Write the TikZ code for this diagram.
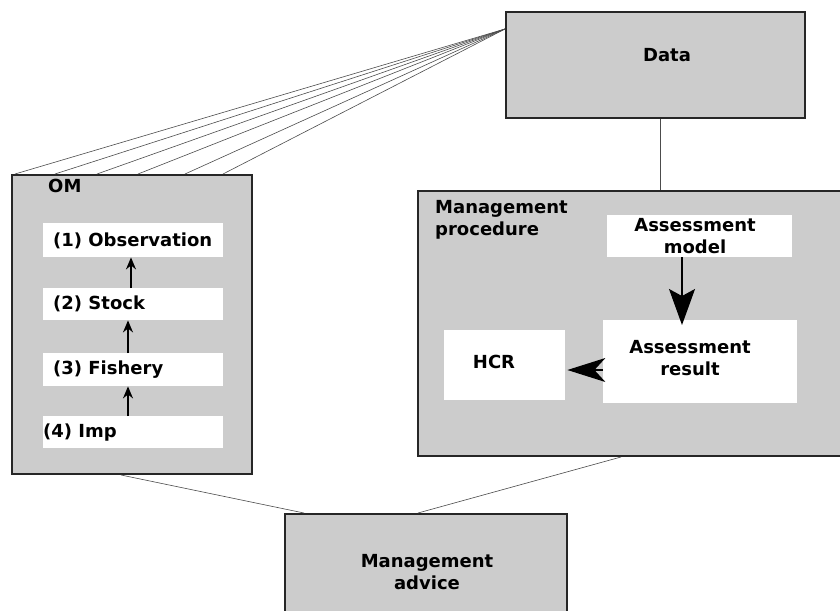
\documentclass[tikz,border=0pt]{standalone}
\usepackage{fontspec}
\setmainfont{DejaVu Sans}
\usetikzlibrary{arrows.meta,calc}
\begin{document}
\begin{tikzpicture}[x=1pt,y=-1pt,
  graybox/.style={draw=black!85,fill=black!20,line width=2pt,inner sep=0pt,anchor=north west},
  whitebox/.style={fill=white,draw=none,inner sep=0pt,anchor=north west},
  lbl/.style={inner sep=0pt,font=\bfseries\fontsize{18}{22}\selectfont,text=black,align=center},
  conn/.style={draw=black!70,line width=0.6pt},
  smallarrow/.style={line width=1.8pt,-{Stealth[length=12pt,width=10pt]}},
  bigarrow/.style={line width=1.2pt,-{Stealth[length=36pt,width=26pt,inset=7pt]}},
  bigarrowh/.style={line width=1.2pt,-{Stealth[length=38pt,width=24pt,inset=11pt]}}]
\useasboundingbox (0,0) rectangle (840,610);
\clip (0,0) rectangle (840,610);
\fill[white] (0,0) rectangle (840,610);
% boxes
\node[graybox,minimum width=299pt,minimum height=106pt] (data) at (505,11) {};
\node[graybox,minimum width=240pt,minimum height=299pt] (om) at (11,174) {};
\node[graybox,minimum width=460pt,minimum height=265pt] (mp) at (417,190) {};
\node[graybox,minimum width=282pt,minimum height=130pt] (adv) at (284,513) {};
\node[whitebox,minimum width=180pt,minimum height=34pt] (obs) at (43,223) {};
\node[whitebox,minimum width=180pt,minimum height=32pt] (stock) at (43,288) {};
\node[whitebox,minimum width=180pt,minimum height=33pt] (fish) at (43,353) {};
\node[whitebox,minimum width=180pt,minimum height=32pt] (imp) at (43,416) {};
\node[whitebox,minimum width=185pt,minimum height=42pt] (am) at (607,215) {};
\node[whitebox,minimum width=194pt,minimum height=83pt] (ar) at (603,320) {};
\node[whitebox,minimum width=121pt,minimum height=70pt] (hcr) at (444,330) {};
% labels
\node[lbl] (tdata) at (667,55) {Data};
\node[lbl,anchor=west] (tom) at (48,185.5) {OM};
\node[lbl,anchor=west] (tobs) at ($(obs.west)+(10,1)$) {(1) Observation};
\node[lbl,anchor=west] (tstock) at ($(stock.west)+(10,0)$) {(2) Stock};
\node[lbl,anchor=west] (tfish) at ($(fish.west)+(10,0)$) {(3) Fishery};
\node[lbl,anchor=west] (timp) at ($(imp.west)+(0,0)$) {(4) Imp};
\node[lbl,anchor=north west,align=left] (tmp) at (435,200) {Management\\procedure};
\node[lbl] (tam) at (695,236) {Assessment\\model};
\node[lbl] (tar) at (690,358) {Assessment\\result};
\node[lbl] (thcr) at (494,362) {HCR};
\node[lbl] (tadv) at (427,572) {Management\\advice};
% fan connectors
\coordinate (fan) at ($(data.north west)+(0,18)$);
\foreach \x in {15,55,97,138,185,223}{
  \draw[conn] (fan) -- (\x,174);
}
% other connectors
\draw[conn] (data.south -| 660,0) -- (mp.north -| 660,0);
\draw[conn] ($(om.south west)+(110,0)$) -- ($(adv.north west)+(20,0)$);
\draw[conn] ($(mp.south west)+(204,0)$) -- ($(adv.north west)+(134,0)$);
% arrows inside OM
\draw[smallarrow] (stock.north -| 131,0) -- (obs.south -| 131,0);
\draw[smallarrow] (fish.north -| 128,0) -- (stock.south -| 128,0);
\draw[smallarrow] (imp.north -| 128,0) -- (fish.south -| 128,0);
% arrows inside MP
\draw[bigarrow] (am.south -| 682,0) -- ($(ar.north -| 682,0)+(0,5)$);
\draw[bigarrowh] (ar.west |- 0,370) -- ($(hcr.east |- 0,370)+(2,0)$);
\end{tikzpicture}
\end{document}
